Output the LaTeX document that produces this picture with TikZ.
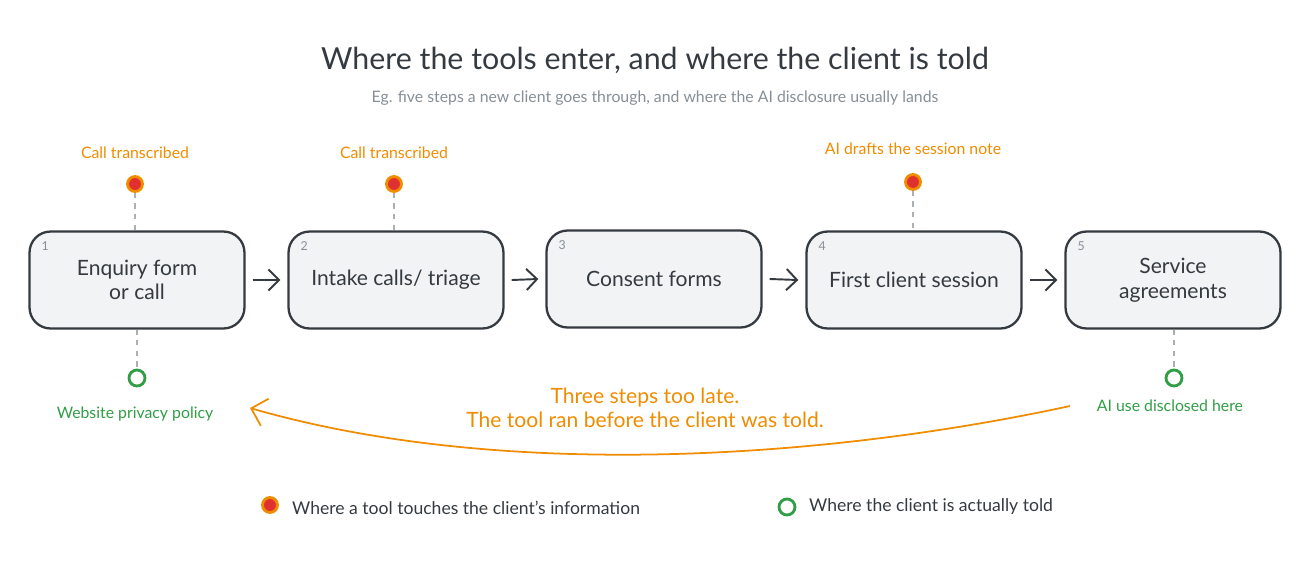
\documentclass[tikz,border=0pt]{standalone}
\usepackage{fontspec}
\setmainfont{Lato}
\usetikzlibrary{positioning,arrows.meta}
\definecolor{ink}{HTML}{343A40}
\definecolor{boxfill}{HTML}{F1F3F5}
\definecolor{tone}{HTML}{F08C00}
\definecolor{hot}{HTML}{E03131}
\definecolor{okgreen}{HTML}{2F9E44}
\definecolor{muted}{HTML}{868E96}
\tikzset{
  stage/.style={draw=ink, fill=boxfill, line width=1.3pt, rounded corners=12pt,
    minimum width=4.3cm, minimum height=1.94cm, align=center, font=\large, text=ink},
  num/.style={font=\scriptsize, text=muted},
  touch/.style={circle, draw=tone, fill=hot, line width=1.6pt, minimum size=0.3cm, inner sep=0pt},
  told/.style={circle, draw=okgreen, fill=white, line width=1.6pt, minimum size=0.32cm, inner sep=0pt},
  flow/.style={-{Straight Barb[length=6pt]}, draw=ink, line width=1.1pt},
  tie/.style={draw=muted!70, dashed, line width=1pt},
  tag/.style={font=\small},
}
\begin{document}
\begin{tikzpicture}[x=0.02cm, y=-0.02cm]
  \useasboundingbox (0,0) rectangle (1309,586);
  % title
  \node[font=\LARGE, text=ink] (title) at (655,60) {Where the tools enter, and where the client is told};
  \node[font=\small, text=muted] (sub) at (655,98) {Eg. five steps a new client goes through, and where the AI disclosure usually lands};
  % steps
  \node[stage] (s1) at (137,280) {Enquiry form\\or call};
  \node[stage] (s2) at (396,280) {Intake calls/ triage};
  \node[stage] (s3) at (654,279) {Consent forms};
  \node[stage] (s4) at (914,280) {First client session};
  \node[stage] (s5) at (1173,280) {Service\\agreements};
  \foreach \s/\n in {s1/1,s2/2,s3/3,s4/4,s5/5}
    \node[num, anchor=north west] at ([xshift=4pt,yshift=-3pt]\s.north west) {\n};
  \foreach \a/\b in {s1/s2,s2/s3,s3/s4,s4/s5}
    \draw[flow] ([xshift=4pt]\a.east) -- ([xshift=-4pt]\b.west);
  % where tools touch
  \node[touch] (t1) at (135,184) {};
  \node[touch] (t2) at (394,184) {};
  \node[touch] (t4) at (913,182) {};
  \node[tag, text=tone, above=0.2cm of t1] {Call transcribed};
  \node[tag, text=tone, above=0.2cm of t2] {Call transcribed};
  \node[tag, text=tone, above=0.25cm of t4] {AI drafts the session note};
  \foreach \t/\s in {t1/s1,t2/s2,t4/s4}
    \draw[tie] (\t) -- (\t |- \s.north);
  % where client is told
  \node[told] (d1) at (137,378) {};
  \node[told] (d5) at (1174,378) {};
  \node[tag, text=okgreen] at (135,414) {Website privacy policy};
  \node[tag, text=okgreen] at (1170,406) {AI use disclosed here};
  \draw[tie] (d1 |- s1.south) -- (d1);
  \draw[tie] (d5 |- s5.south) -- (d5);
  % too late
  \coordinate (late0) at (1070,406);
  \coordinate (late1) at (250,408);
  \draw[tone, line width=1pt, -{Straight Barb[length=8pt]}] (late0) .. controls (820,460) and (500,480) .. (late1);
  \node[font=\large, text=tone, align=center] (late) at (645,408) {Three steps too late.\\The tool ran before the client was told.};
  % legend
  \node[touch] (k1) at (270,505) {};
  \node[anchor=west, text=ink] at (286,508) {Where a tool touches the client's information};
  \node[told] (k2) at (787,507) {};
  \node[anchor=west, text=ink] at (803,507) {Where the client is actually told};
\end{tikzpicture}
\end{document}
